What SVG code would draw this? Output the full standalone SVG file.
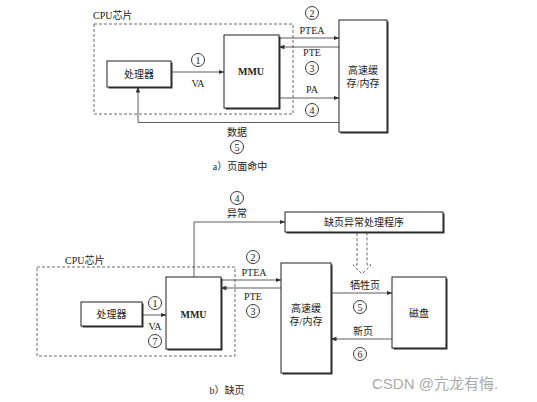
<svg xmlns="http://www.w3.org/2000/svg" width="537" height="402" viewBox="0 0 537 402">
<defs>
<marker id="ah" markerWidth="6" markerHeight="6" refX="5.5" refY="3" orient="auto" markerUnits="userSpaceOnUse">
<path d="M0,0.8 L6,3 L0,5.2 Z" fill="#333"/>
</marker>
<style>
.box{fill:#fff;stroke:#222;stroke-width:1}
.sh{fill:#333}
.dash{fill:none;stroke:#444;stroke-width:0.8;stroke-dasharray:3,2}
.ln{fill:none;stroke:#333;stroke-width:0.8}
.cir{fill:none;stroke:#222;stroke-width:0.9}
text{font-family:"Liberation Serif","Noto Sans CJK SC",serif;fill:#222;font-size:10px}
.c{text-anchor:middle}
.n{font-size:10px}
.wm{font-family:"Liberation Sans","Noto Sans CJK SC",sans-serif;font-size:15px;fill:#aaa}
</style>
</defs>
<rect width="537" height="402" fill="#fff"/>

<!-- Part a -->
<g id="cpu-a">
<rect class="dash" x="94" y="24" width="199" height="90"/>
<text x="93" y="19">CPU芯片</text>
</g>
<g id="proc-a">
<rect class="sh" x="108.5" y="62.5" width="64" height="26"/>
<rect class="box" x="107" y="61" width="64" height="26"/>
<text class="c" x="139" y="78">处理器</text>
</g>
<g id="mmu-a">
<rect class="sh" x="225.5" y="36.5" width="55" height="73"/>
<rect class="box" x="224" y="35" width="55" height="73"/>
<text class="c" x="251" y="75" font-weight="bold" font-size="9">MMU</text>
</g>
<g id="cache-a">
<rect class="sh" x="340.5" y="21.5" width="48" height="112"/>
<rect class="box" x="339" y="20" width="48" height="112"/>
<text class="c" x="363" y="74">高速缓</text>
<text class="c" x="363" y="87">存/内存</text>
</g>
<g id="conn-a">
<line class="ln" x1="171" y1="72" x2="224" y2="72" marker-end="url(#ah)"/>
<line class="ln" x1="279" y1="38" x2="339" y2="38" marker-end="url(#ah)"/>
<line class="ln" x1="339" y1="47" x2="279" y2="47" marker-end="url(#ah)"/>
<line class="ln" x1="279" y1="98" x2="339" y2="98" marker-end="url(#ah)"/>
<polyline class="ln" points="339,122.5 138,122.5 138,87" marker-end="url(#ah)"/>
</g>
<g id="labels-a">
<circle class="cir" cx="198" cy="60" r="6.5"/><text class="c n" x="198" y="63.5">1</text>
<text class="c" x="198" y="87" font-size="9">VA</text>
<circle class="cir" cx="312" cy="13" r="6.5"/><text class="c n" x="312" y="16.5">2</text>
<text class="c" x="312" y="34" font-size="9">PTEA</text>
<text class="c" x="312" y="56" font-size="9">PTE</text>
<circle class="cir" cx="312" cy="68" r="6.5"/><text class="c n" x="312" y="71.5">3</text>
<text class="c" x="312" y="93" font-size="9">PA</text>
<circle class="cir" cx="312" cy="110" r="6.5"/><text class="c n" x="312" y="113.5">4</text>
<text class="c" x="237" y="136">数据</text>
<circle class="cir" cx="237" cy="147" r="6.5"/><text class="c n" x="237" y="150.5">5</text>
<text class="c" x="240" y="170">a）页面命中</text>
</g>

<!-- Part b -->
<g id="cpu-b">
<rect class="dash" x="37" y="267" width="198" height="89"/>
<text x="65" y="264">CPU芯片</text>
</g>
<g id="handler">
<rect class="sh" x="286.5" y="213.5" width="158" height="20"/>
<rect class="box" x="285" y="212" width="158" height="20"/>
<text class="c" x="364" y="226">缺页异常处理程序</text>
</g>
<g id="proc-b">
<rect class="sh" x="82.5" y="303.5" width="61" height="24"/>
<rect class="box" x="81" y="302" width="61" height="24"/>
<text class="c" x="111.5" y="318">处理器</text>
</g>
<g id="mmu-b">
<rect class="sh" x="167.5" y="278.5" width="55" height="72"/>
<rect class="box" x="166" y="277" width="55" height="72"/>
<text class="c" x="193.5" y="318" font-weight="bold" font-size="9">MMU</text>
</g>
<g id="cache-b">
<rect class="sh" x="282.5" y="264.5" width="50" height="110"/>
<rect class="box" x="281" y="263" width="50" height="110"/>
<text class="c" x="306" y="312">高速缓</text>
<text class="c" x="306" y="325">存/内存</text>
</g>
<g id="disk">
<rect class="sh" x="393.5" y="278.5" width="54" height="71"/>
<rect class="box" x="392" y="277" width="54" height="71"/>
<text class="c" x="419" y="317">磁盘</text>
</g>
<g id="conn-b">
<polyline class="ln" points="194,277 194,222 285,222" marker-end="url(#ah)"/>
<line class="ln" x1="142" y1="315" x2="166" y2="315" marker-end="url(#ah)"/>
<line class="ln" x1="221" y1="280" x2="281" y2="280" marker-end="url(#ah)"/>
<line class="ln" x1="281" y1="288" x2="221" y2="288" marker-end="url(#ah)"/>
<line class="ln" x1="331" y1="293" x2="392" y2="293" marker-end="url(#ah)"/>
<line class="ln" x1="392" y1="339" x2="331" y2="339" marker-end="url(#ah)"/>
<path class="dash" d="M357,233 L357,265 L353,265 L362,274 L371,265 L367,265 L367,233"/>
</g>
<g id="labels-b">
<circle class="cir" cx="237" cy="198" r="6.5"/><text class="c n" x="237" y="201.5">4</text>
<text class="c" x="237" y="217">异常</text>
<circle class="cir" cx="155" cy="303" r="6.5"/><text class="c n" x="155" y="306.5">1</text>
<text class="c" x="155" y="330" font-size="9">VA</text>
<circle class="cir" cx="155" cy="341" r="6.5"/><text class="c n" x="155" y="344.5">7</text>
<circle class="cir" cx="253" cy="257" r="6.5"/><text class="c n" x="253" y="260.5">2</text>
<text class="c" x="254" y="276" font-size="9">PTEA</text>
<text class="c" x="253" y="300" font-size="9">PTE</text>
<circle class="cir" cx="253" cy="311" r="6.5"/><text class="c n" x="253" y="314.5">3</text>
<text class="c" x="365" y="289">牺牲页</text>
<circle class="cir" cx="360" cy="307" r="6.5"/><text class="c n" x="360" y="310.5">5</text>
<text class="c" x="363" y="335">新页</text>
<circle class="cir" cx="360" cy="354" r="6.5"/><text class="c n" x="360" y="357.5">6</text>
<text class="c" x="227" y="394">b）缺页</text>
</g>
<text class="wm" x="372" y="389">CSDN @亢龙有悔.</text>
</svg>
